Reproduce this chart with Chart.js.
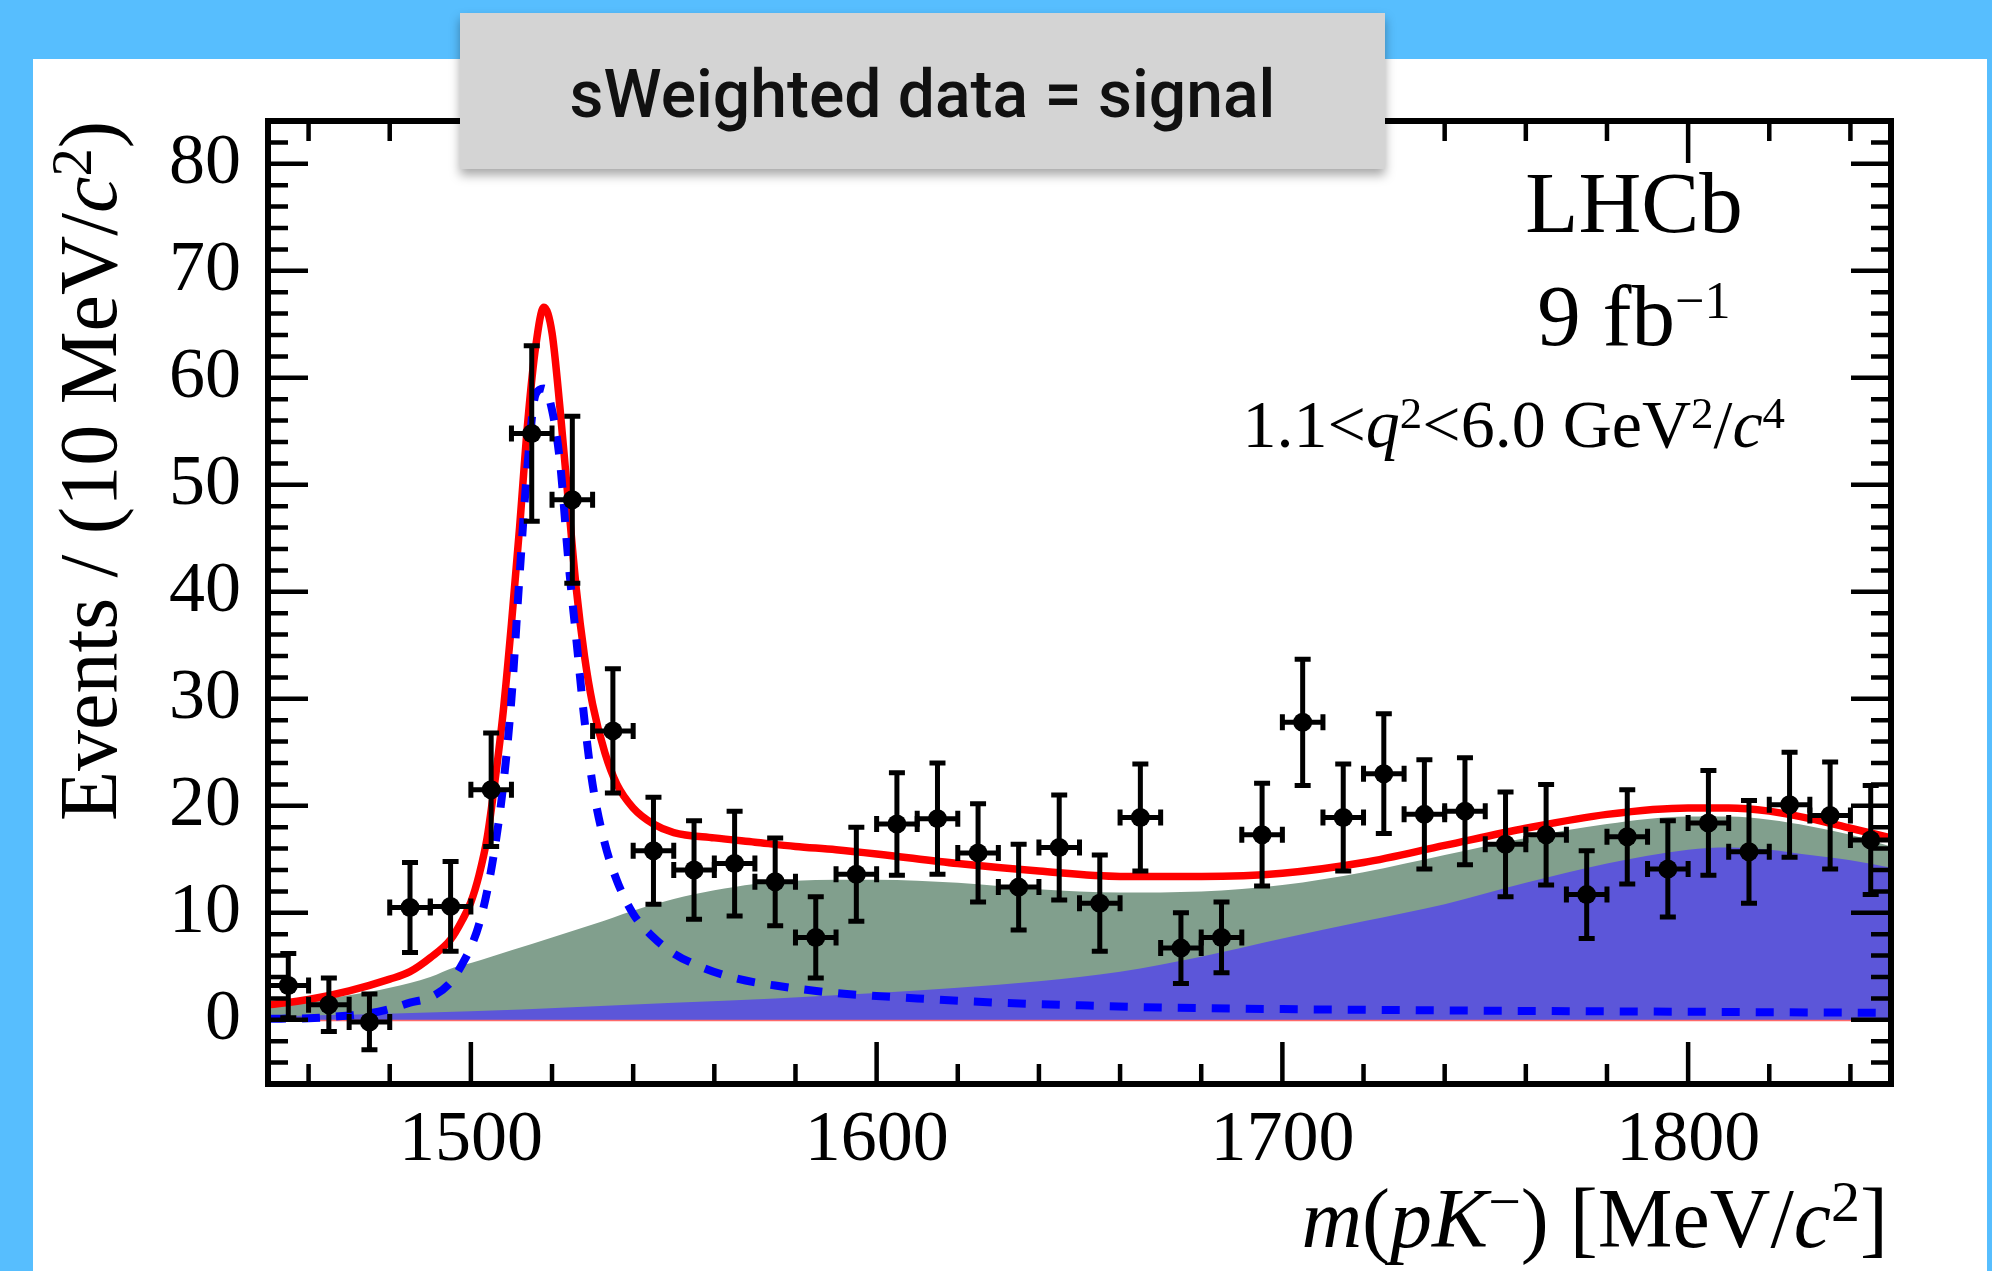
<!DOCTYPE html>
<html>
<head>
<meta charset="utf-8">
<script src="https://cdn.jsdelivr.net/npm/chart.js@4.4.1/dist/chart.umd.min.js"></script>
<style>
  html, body { margin: 0; padding: 0; }
  body { width: 1992px; height: 1271px; background: #57befe; position: relative; overflow: hidden; }
  #panel { position: absolute; left: 33px; top: 59px; width: 1954px; height: 1212px; background: #fff; }
  #chart { position: absolute; left: 0; top: 0; }
  .serif { position: absolute; font-family: 'Liberation Serif', 'Times New Roman', serif; color: #000; line-height: 1; white-space: nowrap; }
  .serif sup { position: relative; vertical-align: baseline; }
  #ytitle { font-size: 82px; width: 800px; text-align: right; left: 48px; top: 921px; transform-origin: 0 0; transform: rotate(-90deg); }
  #ytitle sup, #xtitle sup { font-size: 0.69em; top: -0.45em; }
  #xtitle { font-size: 84px; right: 104px; top: 1177px; text-align: right; }
  #lhcb { font-size: 87px; width: 400px; left: 1434px; top: 159px; text-align: center; }
  #lumi { font-size: 87px; width: 400px; left: 1434px; top: 272px; text-align: center; }
  #lumi sup { font-size: 0.6em; top: -0.52em; }
  #q2 { font-size: 68px; right: 207px; top: 390px; text-align: right; }
  #q2 sup { font-size: 0.66em; top: -0.42em; }
  #titlebox { position: absolute; left: 460px; top: 13px; width: 925px; height: 156px; background: #d4d4d4;
              box-shadow: 0 6px 10px rgba(0,0,0,0.35); }
  #titlebox span { position: absolute; left: 0; width: 100%; top: 49px; text-align: center; line-height: 1;
                   font-family: Roboto, 'Liberation Sans', sans-serif; font-weight: 500; font-size: 66px; color: #111; white-space: nowrap; }
</style>
</head>
<body>
<div id="panel"></div>
<canvas id="chart" width="1992" height="1271"></canvas>
<div class="serif" id="ytitle">Events / (10 MeV/<i>c</i><sup>2</sup>)</div>
<div class="serif" id="xtitle"><i>m</i>(<i>pK</i><sup>&minus;</sup>) [MeV/<i>c</i><sup>2</sup>]</div>
<div class="serif" id="lhcb">LHCb</div>
<div class="serif" id="lumi">9 fb<sup>&minus;1</sup></div>
<div class="serif" id="q2">1.1&lt;<i>q</i><sup>2</sup>&lt;6.0 GeV<sup>2</sup>/<i>c</i><sup>4</sup></div>
<div id="titlebox"><span>sWeighted data = signal</span></div>

<script>
// sWeighted data, 10 MeV bins
const massBins = [1455, 1465, 1475, 1485, 1495, 1505, 1515, 1525, 1535, 1545,
                  1555, 1565, 1575, 1585, 1595, 1605, 1615, 1625, 1635, 1645,
                  1655, 1665, 1675, 1685, 1695, 1705, 1715, 1725, 1735, 1745,
                  1755, 1765, 1775, 1785, 1795, 1805, 1815, 1825, 1835, 1845];
const events = [3.2, 1.4, -0.2, 10.5, 10.6, 21.5, 54.8, 48.6, 27.0, 15.8,
                14.0, 14.6, 12.9, 7.7, 13.6, 18.3, 18.8, 15.6, 12.4, 16.1,
                10.9, 18.9, 6.7, 7.7, 17.3, 27.8, 18.9, 23.0, 19.2, 19.5,
                16.4, 17.3, 11.7, 17.1, 14.1, 18.4, 15.7, 20.1, 19.1, 16.8];
const eventErr = [3.0, 2.5, 2.6, 4.2, 4.2, 5.3, 8.2, 7.8, 5.8, 5.0,
                  4.6, 4.9, 4.1, 3.8, 4.4, 4.8, 5.2, 4.6, 4.0, 4.9,
                  4.5, 5.0, 3.3, 3.3, 4.8, 5.9, 5.0, 5.6, 5.1, 5.0,
                  4.9, 4.7, 4.1, 4.4, 4.5, 4.9, 4.8, 4.9, 5.0, 5.1];
const binHalfWidth = 5;

// total fit (red)
const fitMass = [1450, 1460, 1470, 1480, 1485, 1490, 1495, 1498, 1500, 1502, 1504, 1506, 1508, 1510,
                 1512, 1514, 1516, 1518, 1520, 1522, 1524, 1526, 1528, 1530, 1533, 1536, 1540, 1545,
                 1550, 1560, 1570, 1580, 1590, 1600, 1620, 1640, 1660, 1680, 1700, 1720, 1740, 1760,
                 1780, 1800, 1810, 1820, 1830, 1840, 1850];
const fitTotal = [1.4, 1.9, 2.7, 3.8, 4.5, 5.8, 7.5, 9.4, 11.0, 13.5, 17.0, 22.5, 28.9, 37.0,
                  46.0, 55.8, 63.0, 66.6, 64.2, 57.0, 48.5, 40.2, 34.0, 29.5, 25.0, 22.0, 19.8, 18.3,
                  17.5, 17.0, 16.6, 16.2, 15.9, 15.5, 14.6, 13.9, 13.4, 13.4, 13.7, 14.7, 16.3, 17.9,
                  19.2, 19.8, 19.8, 19.5, 18.8, 17.9, 17.0];

// signal component (blue dashed)
const sigMass = [1450, 1460, 1470, 1475, 1480, 1485, 1490, 1495, 1498, 1500, 1502, 1504, 1506, 1508,
                 1510, 1512, 1514, 1516, 1518, 1520, 1522, 1524, 1526, 1528, 1530, 1533, 1536, 1540,
                 1545, 1550, 1557, 1565, 1575, 1590, 1610, 1630, 1650, 1670, 1700, 1750, 1800, 1850];
const sigValues = [0.1, 0.15, 0.4, 0.6, 1.0, 1.6, 2.1, 3.5, 5.3, 6.8, 8.9, 12.0, 16.3, 22.0,
                   30.0, 41.5, 52.0, 58.5, 59.0, 57.0, 52.0, 43.0, 35.5, 28.0, 22.0, 16.5, 13.0, 9.9,
                   7.7, 6.2, 4.9, 3.9, 3.2, 2.5, 2.0, 1.6, 1.35, 1.15, 1.0, 0.85, 0.75, 0.65];

// background stack top (green)
const bkgMass = [1450, 1460, 1470, 1480, 1490, 1496, 1500, 1510, 1520, 1530, 1540, 1550, 1560, 1570,
                 1580, 1590, 1600, 1620, 1640, 1660, 1680, 1700, 1720, 1740, 1760, 1780, 1800, 1810,
                 1820, 1830, 1840, 1850];
const bkgStack = [1.4, 1.8, 2.3, 3.0, 4.0, 4.9, 5.3, 6.5, 7.7, 8.9, 10.2, 11.3, 12.1, 12.7,
                  13.0, 13.1, 13.1, 12.8, 12.2, 11.9, 12.0, 12.6, 13.8, 15.4, 17.0, 18.3, 19.0, 19.0,
                  18.7, 18.1, 17.3, 16.2];

// second background component (blue filled)
const bkg2Mass = [1450, 1500, 1550, 1575, 1600, 1620, 1640, 1660, 1680, 1700, 1720, 1740, 1760, 1780,
                  1800, 1810, 1820, 1830, 1840, 1850];
const bkg2Values = [0.3, 0.8, 1.6, 2.0, 2.5, 3.0, 3.6, 4.5, 5.9, 7.6, 9.2, 10.8, 12.8, 14.6,
                    15.9, 16.1, 15.9, 15.4, 14.9, 14.2];

// small component at zero
const zeroMass = [1450, 1850];
const zeroValues = [0, 0];

const xTicks = [1500, 1600, 1700, 1800];
const yTicks = [0, 10, 20, 30, 40, 50, 60, 70, 80];

const pts = (xs, ys) => xs.map((x, i) => ({ x: x, y: ys[i] }));
const serif = "'Liberation Serif', 'Times New Roman', serif";

const errorBars = {
    id: 'errorBars',
    afterDatasetsDraw(chart) {
        const { ctx, chartArea, scales: { x, y } } = chart;
        ctx.save();
        ctx.beginPath();
        ctx.rect(chartArea.left, chartArea.top, chartArea.right - chartArea.left, chartArea.bottom - chartArea.top);
        ctx.clip();
        ctx.strokeStyle = '#000';
        ctx.lineWidth = 5;
        const cap = 8;
        massBins.forEach((m, i) => {
            const px = x.getPixelForValue(m);
            const py = y.getPixelForValue(events[i]);
            const top = y.getPixelForValue(events[i] + eventErr[i]);
            const bot = y.getPixelForValue(events[i] - eventErr[i]);
            const l = x.getPixelForValue(m - binHalfWidth);
            const r = x.getPixelForValue(m + binHalfWidth);
            ctx.beginPath();
            ctx.moveTo(px, top); ctx.lineTo(px, bot);
            ctx.moveTo(l, py); ctx.lineTo(r, py);
            ctx.moveTo(px - cap, top); ctx.lineTo(px + cap, top);
            ctx.moveTo(px - cap, bot); ctx.lineTo(px + cap, bot);
            ctx.moveTo(l, py - cap); ctx.lineTo(l, py + cap);
            ctx.moveTo(r, py - cap); ctx.lineTo(r, py + cap);
            ctx.stroke();
        });
        ctx.restore();
    }
};

const frameTicks = {
    id: 'frameTicks',
    afterDraw(chart) {
        const { ctx, chartArea: a, scales: { x, y } } = chart;
        ctx.save();
        ctx.strokeStyle = '#000';
        ctx.lineWidth = 4.5;
        ctx.beginPath();
        for (let v = 1460; v <= 1840; v += 20) {
            const len = xTicks.includes(v) ? 42 : 20;
            const px = x.getPixelForValue(v);
            ctx.moveTo(px, a.bottom); ctx.lineTo(px, a.bottom - len);
            ctx.moveTo(px, a.top); ctx.lineTo(px, a.top + len);
        }
        for (let v = -6; v <= 84; v += 2) {
            const len = yTicks.includes(v) ? 40 : 20;
            const py = y.getPixelForValue(v);
            ctx.moveTo(a.left, py); ctx.lineTo(a.left + len, py);
            ctx.moveTo(a.right, py); ctx.lineTo(a.right - len, py);
        }
        ctx.stroke();
        ctx.lineWidth = 6;
        ctx.strokeRect(a.left, a.top, a.right - a.left, a.bottom - a.top);
        ctx.restore();
    }
};

new Chart(document.getElementById('chart'), {
    data: {
        datasets: [
            {
                type: 'scatter',
                data: pts(massBins, events),
                pointRadius: 9.5,
                pointBackgroundColor: '#000',
                pointBorderWidth: 0,
                order: 0
            },
            {
                type: 'line',
                data: pts(sigMass, sigValues),
                borderColor: '#0000ff',
                borderWidth: 8,
                borderDash: [18, 16],
                pointRadius: 0,
                cubicInterpolationMode: 'monotone',
                fill: false,
                order: 1
            },
            {
                type: 'line',
                data: pts(fitMass, fitTotal),
                borderColor: '#ff0000',
                borderWidth: 7.5,
                pointRadius: 0,
                cubicInterpolationMode: 'monotone',
                fill: false,
                order: 2
            },
            {
                type: 'line',
                data: pts(bkg2Mass, bkg2Values),
                borderWidth: 0,
                backgroundColor: '#5c56d9',
                pointRadius: 0,
                cubicInterpolationMode: 'monotone',
                fill: 'origin',
                order: 3
            },
            {
                type: 'line',
                data: pts(zeroMass, zeroValues),
                borderColor: '#ff6a6a',
                borderWidth: 3,
                pointRadius: 0,
                fill: false,
                order: 4
            },
            {
                type: 'line',
                data: pts(bkgMass, bkgStack),
                borderWidth: 0,
                backgroundColor: '#819f8d',
                pointRadius: 0,
                cubicInterpolationMode: 'monotone',
                fill: 'origin',
                order: 5
            }
        ]
    },
    options: {
        responsive: false,
        devicePixelRatio: 1,
        animation: false,
        layout: { padding: { left: 0, top: 121, right: 101, bottom: 0 } },
        plugins: { legend: { display: false }, tooltip: { enabled: false } },
        scales: {
            x: {
                type: 'linear',
                min: 1450,
                max: 1850,
                grid: { display: false, drawTicks: false },
                border: { display: false },
                ticks: { font: { family: serif, size: 72 }, color: '#000', padding: 14, maxRotation: 0, autoSkip: false,
                         callback: v => String(v) },
                afterBuildTicks: s => { s.ticks = xTicks.map(v => ({ value: v })); },
                afterFit: s => { s.height = 187; }
            },
            y: {
                type: 'linear',
                min: -6,
                max: 84,
                grid: { display: false, drawTicks: false },
                border: { display: false },
                ticks: { font: { family: serif, size: 72 }, color: '#000', padding: 27, autoSkip: false,
                         callback: v => String(v) },
                afterBuildTicks: s => { s.ticks = yTicks.map(v => ({ value: v })); },
                afterFit: s => { s.width = 268; }
            }
        }
    },
    plugins: [errorBars, frameTicks]
});
</script>
</body>
</html>
